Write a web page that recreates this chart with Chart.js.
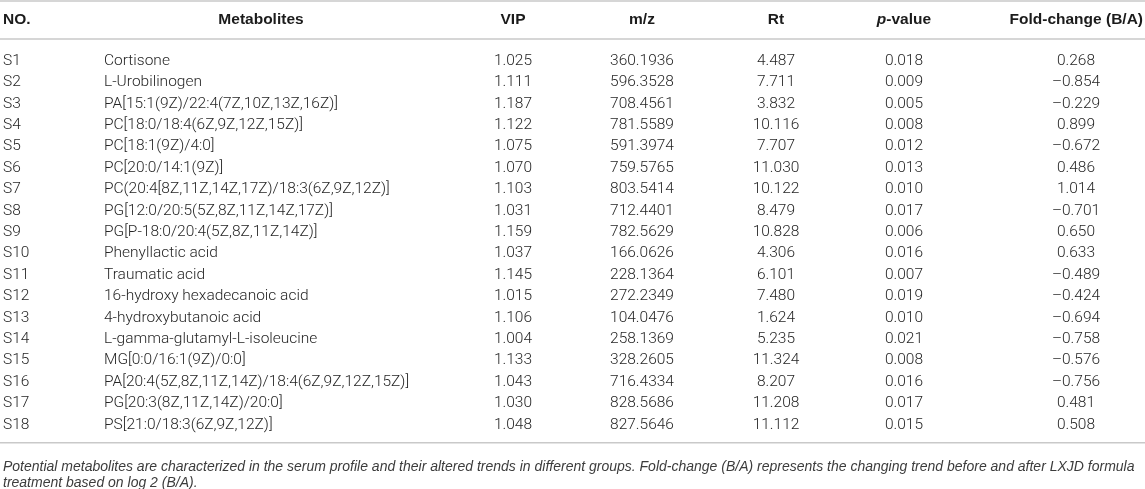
<!DOCTYPE html>
<html>
<head>
<meta charset="utf-8">
<script src="https://cdn.jsdelivr.net/npm/chart.js@4"></script>
<style>
  html, body { margin: 0; padding: 0; background: #fff; }
  #wrap { width: 1145px; height: 489px; position: relative; }
</style>
</head>
<body>
<div id="wrap"><canvas id="metaTable"></canvas></div>
<script>
// table data
var ids = ["S1", "S2", "S3", "S4", "S5", "S6", "S7", "S8", "S9", "S10",
           "S11", "S12", "S13", "S14", "S15", "S16", "S17", "S18"];
var metabolites = [
    "Cortisone",
    "L-Urobilinogen",
    "PA[15:1(9Z)/22:4(7Z,10Z,13Z,16Z)]",
    "PC[18:0/18:4(6Z,9Z,12Z,15Z)]",
    "PC[18:1(9Z)/4:0]",
    "PC[20:0/14:1(9Z)]",
    "PC(20:4[8Z,11Z,14Z,17Z)/18:3(6Z,9Z,12Z)]",
    "PG[12:0/20:5(5Z,8Z,11Z,14Z,17Z)]",
    "PG[P-18:0/20:4(5Z,8Z,11Z,14Z)]",
    "Phenyllactic acid",
    "Traumatic acid",
    "16-hydroxy hexadecanoic acid",
    "4-hydroxybutanoic acid",
    "L-gamma-glutamyl-L-isoleucine",
    "MG[0:0/16:1(9Z)/0:0]",
    "PA[20:4(5Z,8Z,11Z,14Z)/18:4(6Z,9Z,12Z,15Z)]",
    "PG[20:3(8Z,11Z,14Z)/20:0]",
    "PS[21:0/18:3(6Z,9Z,12Z)]"
];
var vip = [1.025, 1.111, 1.187, 1.122, 1.075, 1.070, 1.103, 1.031, 1.159,
           1.037, 1.145, 1.015, 1.106, 1.004, 1.133, 1.043, 1.030, 1.048];
var mz = [360.1936, 596.3528, 708.4561, 781.5589, 591.3974, 759.5765, 803.5414,
          712.4401, 782.5629, 166.0626, 228.1364, 272.2349, 104.0476, 258.1369,
          328.2605, 716.4334, 828.5686, 827.5646];
var rt = [4.487, 7.711, 3.832, 10.116, 7.707, 11.030, 10.122, 8.479, 10.828,
          4.306, 6.101, 7.480, 1.624, 5.235, 11.324, 8.207, 11.208, 11.112];
var pValue = [0.018, 0.009, 0.005, 0.008, 0.012, 0.013, 0.010, 0.017, 0.006,
              0.016, 0.007, 0.019, 0.010, 0.021, 0.008, 0.016, 0.017, 0.015];
var foldChange = [0.268, -0.854, -0.229, 0.899, -0.672, 0.486, 1.014, -0.701, 0.650,
                  0.633, -0.489, -0.424, -0.694, -0.758, -0.576, -0.756, 0.481, 0.508];

var headers = ["NO.", "Metabolites", "VIP", "m/z", "Rt", "p-value", "Fold-change (B/A)"];
var footnote = [
    "Potential metabolites are characterized in the serum profile and their altered trends in different groups. Fold-change (B/A) represents the changing trend before and after LXJD formula",
    "treatment based on log 2 (B/A)."
];

function fmt(v, d) {
    var s = Math.abs(v).toFixed(d);
    return v < 0 ? "\u2013" + s : s;
}

// column layout: x anchor on the x scale, alignment, and cell text
var columns = [
    { x: 3,    headX: 3,    align: "left",   head: "left",   cell: function (i) { return ids[i]; } },
    { x: 104,  headX: 261,  align: "left",   head: "center", cell: function (i) { return metabolites[i]; } },
    { x: 513,  headX: 513,  align: "center", head: "center", cell: function (i) { return fmt(vip[i], 3); } },
    { x: 642,  headX: 642,  align: "center", head: "center", cell: function (i) { return fmt(mz[i], 4); } },
    { x: 776,  headX: 776,  align: "center", head: "center", cell: function (i) { return fmt(rt[i], 3); } },
    { x: 904,  headX: 904,  align: "center", head: "center", cell: function (i) { return fmt(pValue[i], 3); } },
    { x: 1076, headX: 1143, align: "center", head: "right",  cell: function (i) { return fmt(foldChange[i], 3); } }
];

var bodyFont = '300 15.5px Roboto, "Liberation Sans", sans-serif';
var headFont = 'bold 15.5px "Liberation Sans", Arial, sans-serif';
var noteFont = 'italic 14px "Liberation Sans", Arial, sans-serif';
var ruleColor = "#c9c9c9";

var tablePlugin = {
    id: "tableCells",
    afterDraw: function (chart) {
        var ctx = chart.ctx;
        var xs = chart.scales.x;
        var ys = chart.scales.y;
        var W = chart.width;
        var firstY = ys.getPixelForValue(0);
        var lastY = ys.getPixelForValue(ids.length - 1);
        var headY = firstY - 41;

        ctx.save();
        // rules
        ctx.strokeStyle = ruleColor;
        ctx.lineWidth = 1.5;
        [1, firstY - 22, lastY + 18].forEach(function (y) {
            ctx.beginPath();
            ctx.moveTo(0, y);
            ctx.lineTo(W, y);
            ctx.stroke();
        });

        // header
        ctx.fillStyle = "#1b1b1b";
        ctx.textBaseline = "middle";
        columns.forEach(function (c, k) {
            var x = xs.getPixelForValue(c.headX);
            if (headers[k] === "p-value") {
                ctx.font = 'italic ' + headFont;
                var w1 = ctx.measureText("p").width;
                ctx.font = headFont;
                var w2 = ctx.measureText("-value").width;
                var x0 = x - (w1 + w2) / 2;
                ctx.textAlign = "left";
                ctx.font = 'italic ' + headFont;
                ctx.fillText("p", x0, headY);
                ctx.font = headFont;
                ctx.fillText("-value", x0 + w1, headY);
                return;
            }
            ctx.font = headFont;
            ctx.textAlign = c.head;
            ctx.fillText(headers[k], x, headY);
        });

        // body cells
        ctx.font = bodyFont;
        ctx.fillStyle = "#262626";
        for (var i = 0; i < ids.length; i++) {
            var y = ys.getPixelForValue(i);
            columns.forEach(function (c) {
                ctx.textAlign = c.align;
                ctx.fillText(c.cell(i), xs.getPixelForValue(c.x), y);
            });
        }

        // footnote
        ctx.font = noteFont;
        ctx.fillStyle = "#3c3c3c";
        ctx.textAlign = "left";
        footnote.forEach(function (line, k) {
            ctx.fillText(line, 3, lastY + 42 + k * 16);
        });
        ctx.restore();
    }
};

var ctx = document.getElementById("metaTable").getContext("2d");
var myChart = new Chart(ctx, {
    type: "scatter",
    data: {
        labels: ids,
        datasets: [
            {
                label: "VIP",
                data: ids.map(function (id) { return { x: columns[2].x, y: id }; }),
                pointRadius: 0,
                showLine: false,
            },
        ],
    },
    options: {
        responsive: true,
        maintainAspectRatio: false,
        animation: false,
        layout: {
            padding: { top: 50.3, bottom: 53.5, left: 0, right: 0 },
        },
        scales: {
            x: { type: "linear", min: 0, max: 1145, display: false },
            y: { type: "category", labels: ids, offset: true, display: false },
        },
        plugins: {
            legend: { display: false },
            tooltip: { enabled: false },
        },
    },
    plugins: [tablePlugin],
});
</script>
</body>
</html>
